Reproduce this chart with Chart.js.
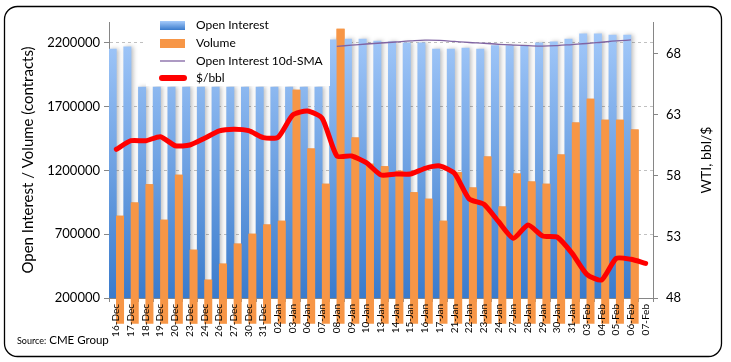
<!DOCTYPE html>
<html>
<head>
<meta charset="utf-8">
<script src="https://cdn.jsdelivr.net/npm/chart.js@4.4.1/dist/chart.umd.min.js"></script>
<style>
  html, body { margin: 0; padding: 0; background: #fff; }
  #wrap { width: 731px; height: 362px; position: relative; }
</style>
</head>
<body>
<div id="wrap"><canvas id="chartOI"></canvas></div>
<script>
const dates = ['16-Dec', '17-Dec', '18-Dec', '19-Dec', '20-Dec', '23-Dec', '24-Dec', '26-Dec', '27-Dec', '30-Dec',
  '31-Dec', '02-Jan', '03-Jan', '06-Jan', '07-Jan', '08-Jan', '09-Jan', '10-Jan', '13-Jan', '14-Jan', '15-Jan',
  '16-Jan', '17-Jan', '21-Jan', '22-Jan', '23-Jan', '24-Jan', '27-Jan', '28-Jan', '29-Jan', '30-Jan', '31-Jan',
  '03-Feb', '04-Feb', '05-Feb', '06-Feb', '07-Feb'];

const openInterest = [2153000, 2169000, 1855000, 1855000, 1855000, 1855000, 1855000, 1855000, 1855000, 1855000,
  1855000, 1855000, 1855000, 1855000, 1855000, 2224000, 2231000, 2231000, 2216000, 2210000, 2202000,
  2202000, 2153000, 2153000, 2161000, 2153000, 2179000, 2179000, 2176000, 2202000, 2210000, 2231000,
  2271000, 2271000, 2263000, 2263000, null];

const volume = [843000, 947000, 1089000, 812000, 1165000, 576000, 341000, 467000, 624000, 702000,
  773000, 804000, 1831000, 1369000, 1094000, 2310000, 1457000, 1251000, 1230000, 1196000, 1026000,
  976000, 804000, 1183000, 1065000, 1308000, 916000, 1173000, 1112000, 1094000, 1322000, 1573000,
  1761000, 1596000, 1596000, 1518000, null];

const oiSma = [null, null, null, null, null, null, null, null, null, null,
  null, null, null, null, null, 2174000, 2183000, 2192000, 2200000, 2208000, 2216000,
  2222000, 2220000, 2212000, 2204000, 2198000, 2190000, 2184000, 2179000, 2176000, 2180000, 2188000,
  2196000, 2206000, 2216000, 2224000, null];

const wti = [60.19, 60.89, 60.89, 61.22, 60.48, 60.54, 61.09, 61.69, 61.83, 61.71,
  61.14, 61.17, 63.0, 63.33, 62.73, 59.64, 59.64, 59.09, 58.08, 58.16, 58.16,
  58.63, 58.82, 58.22, 56.11, 55.68, 54.25, 52.89, 53.98, 53.08, 52.98, 51.66,
  49.94, 49.48, 51.25, 51.17, 50.84];

const contractTicks = [200000, 700000, 1200000, 1700000, 2200000];
const priceTicks = [48, 53, 58, 63, 68];

const FONT = 'Lato, "Open Sans", sans-serif';
const AXIS_GREY = '#868686';

function blueFill(chart, top, bottom) {
  const area = chart.chartArea;
  if (!area) return '#7aaaf0';
  const g = chart.ctx.createLinearGradient(0, top ?? area.top, 0, bottom ?? area.bottom);
  g.addColorStop(0, '#a6cbfb');
  g.addColorStop(1, '#3a7bcc');
  return g;
}

// soft shadow on the open interest bars; volume bars are drawn again on top of it
const barShadow = {
  id: 'barShadow',
  beforeDatasetDraw(chart, args) {
    if (args.index !== 0) return;
    const ctx = chart.ctx;
    ctx.save();
    ctx.shadowColor = 'rgba(0,0,0,0.25)';
    ctx.shadowBlur = 4;
    ctx.shadowOffsetX = 2;
  },
  afterDatasetDraw(chart, args) {
    if (args.index !== 0) return;
    chart.ctx.restore();
    const meta = chart.getDatasetMeta(1);
    meta.data.forEach((el, i) => {
      if (volume[i] != null) el.draw(chart.ctx);
    });
  },
};

const decorations = {
  id: 'decorations',
  beforeDraw(chart) {
    const ctx = chart.ctx;
    ctx.save();
    ctx.fillStyle = '#fff';
    ctx.fillRect(0, 0, chart.width, chart.height);
    ctx.restore();
  },
  afterDraw(chart) {
    const ctx = chart.ctx;
    const area = chart.chartArea;
    const ds = chart.data.datasets;
    const xScale = chart.scales.x;

    // date labels, vertical, placed on the category scale
    ctx.save();
    ctx.shadowColor = 'rgba(0,0,0,0)';
    ctx.font = '10px ' + FONT;
    ctx.fillStyle = '#000';
    ctx.textAlign = 'right';
    ctx.textBaseline = 'middle';
    chart.data.labels.forEach((label, i) => {
      ctx.save();
      ctx.translate(Math.round(xScale.getPixelForValue(i)), area.bottom + 6);
      ctx.rotate(-Math.PI / 2);
      ctx.fillText(label, 0, 0);
      ctx.restore();
    });
    ctx.restore();

    // legend box over the plot
    ctx.save();
    ctx.fillStyle = '#fff';
    ctx.fillRect(146, 9, 184, 77);
    const rows = [25, 43, 61, 78];
    ctx.fillStyle = blueFill(chart, 21, 30);
    ctx.fillRect(160, 21, 25, 9);
    ctx.fillStyle = ds[1].backgroundColor;
    ctx.fillRect(160, 39, 25, 9);
    ctx.strokeStyle = ds[2].borderColor;
    ctx.lineWidth = 1.3;
    ctx.beginPath();
    ctx.moveTo(160, 61);
    ctx.lineTo(185, 61);
    ctx.stroke();
    ctx.strokeStyle = ds[3].borderColor;
    ctx.lineWidth = 6;
    ctx.lineCap = 'round';
    ctx.beginPath();
    ctx.moveTo(162, 78);
    ctx.lineTo(184, 78);
    ctx.stroke();
    ctx.font = '12px ' + FONT;
    ctx.textBaseline = 'middle';
    ctx.fillStyle = '#000';
    ds.forEach((d, i) => ctx.fillText(d.label, 196, rows[i]));
    ctx.restore();

    // right axis title, reading bottom to top
    ctx.save();
    ctx.translate(706, (area.top + area.bottom) / 2);
    ctx.rotate(-Math.PI / 2);
    ctx.font = '14px ' + FONT;
    ctx.fillStyle = '#000';
    ctx.textAlign = 'center';
    ctx.textBaseline = 'middle';
    ctx.fillText('WTI, bbl/$', 0, 0);
    ctx.restore();

    // source
    ctx.save();
    ctx.fillStyle = '#000';
    ctx.textBaseline = 'alphabetic';
    ctx.font = '9px ' + FONT;
    ctx.fillText('Source:', 17, 344);
    const w = ctx.measureText('Source:').width;
    ctx.font = '11.5px ' + FONT;
    ctx.fillText(' CME Group', 17 + w, 344);
    ctx.restore();

    // rounded frame
    ctx.save();
    ctx.strokeStyle = '#000';
    ctx.lineWidth = 1.3;
    ctx.beginPath();
    ctx.roundRect(4.5, 6.5, 717, 350, 13);
    ctx.stroke();
    ctx.restore();
  },
};

new Chart(document.getElementById('chartOI'), {
  type: 'bar',
  data: {
    labels: dates,
    datasets: [
      {
        type: 'bar',
        label: 'Open Interest',
        data: openInterest,
        yAxisID: 'y',
        backgroundColor: (c) => blueFill(c.chart),
        barPercentage: 1,
        categoryPercentage: 1,
        order: 2,
      },
      {
        type: 'bar',
        label: 'Volume',
        data: volume,
        yAxisID: 'y',
        backgroundColor: '#f79646',
        barPercentage: 1,
        categoryPercentage: 1,
        order: 3,
      },
      {
        type: 'line',
        label: 'Open Interest 10d-SMA',
        data: oiSma,
        yAxisID: 'y',
        borderColor: '#8064a2',
        borderWidth: 1.3,
        pointRadius: 0,
        tension: 0.4,
        order: 1,
      },
      {
        type: 'line',
        label: '$/bbl',
        data: wti,
        yAxisID: 'y1',
        borderColor: '#ff0000',
        borderWidth: 5,
        borderCapStyle: 'round',
        borderJoinStyle: 'round',
        pointRadius: 0,
        tension: 0.2,
        order: 0,
      },
    ],
  },
  options: {
    responsive: true,
    maintainAspectRatio: false,
    animation: false,
    layout: { padding: { top: 22, left: 0, right: 0, bottom: 0 } },
    plugins: {
      legend: { display: false },
      tooltip: { enabled: false },
    },
    scales: {
      x: {
        type: 'category',
        grid: { drawOnChartArea: false, offset: true, tickLength: 4, color: AXIS_GREY },
        border: { color: AXIS_GREY },
        ticks: { display: false },
        afterFit: (s) => { s.height = 64; },
      },
      y: {
        type: 'linear',
        position: 'left',
        min: 200000,
        max: 2364700,
        afterBuildTicks: (axis) => { axis.ticks = contractTicks.map((v) => ({ value: v })); },
        grid: {
          color: (c) => (c.tick && c.tick.value === 200000 ? 'rgba(0,0,0,0)' : '#c0c0c0'),
          tickColor: AXIS_GREY,
          tickLength: 5,
          tickBorderDash: [],
        },
        border: { color: AXIS_GREY, dash: [3, 3] },
        ticks: {
          font: { family: FONT, size: 13 },
          color: '#000',
          padding: 4,
          callback: (v) => String(v),
        },
        title: {
          display: true,
          text: 'Open Interest / Volume (contracts)',
          font: { family: FONT, size: 15 },
          color: '#000',
          padding: { top: 19, bottom: 0 },
        },
        afterFit: (s) => { s.width = 109; },
      },
      y1: {
        type: 'linear',
        position: 'right',
        min: 48,
        max: 70.62,
        afterBuildTicks: (axis) => { axis.ticks = priceTicks.map((v) => ({ value: v })); },
        grid: { drawOnChartArea: false, tickLength: 5, color: AXIS_GREY },
        border: { color: AXIS_GREY },
        ticks: {
          font: { family: FONT, size: 13 },
          color: '#000',
          padding: 8,
          callback: (v) => String(v),
        },
        afterFit: (s) => { s.width = 78; },
      },
    },
  },
  plugins: [barShadow, decorations],
});
</script>
</body>
</html>
